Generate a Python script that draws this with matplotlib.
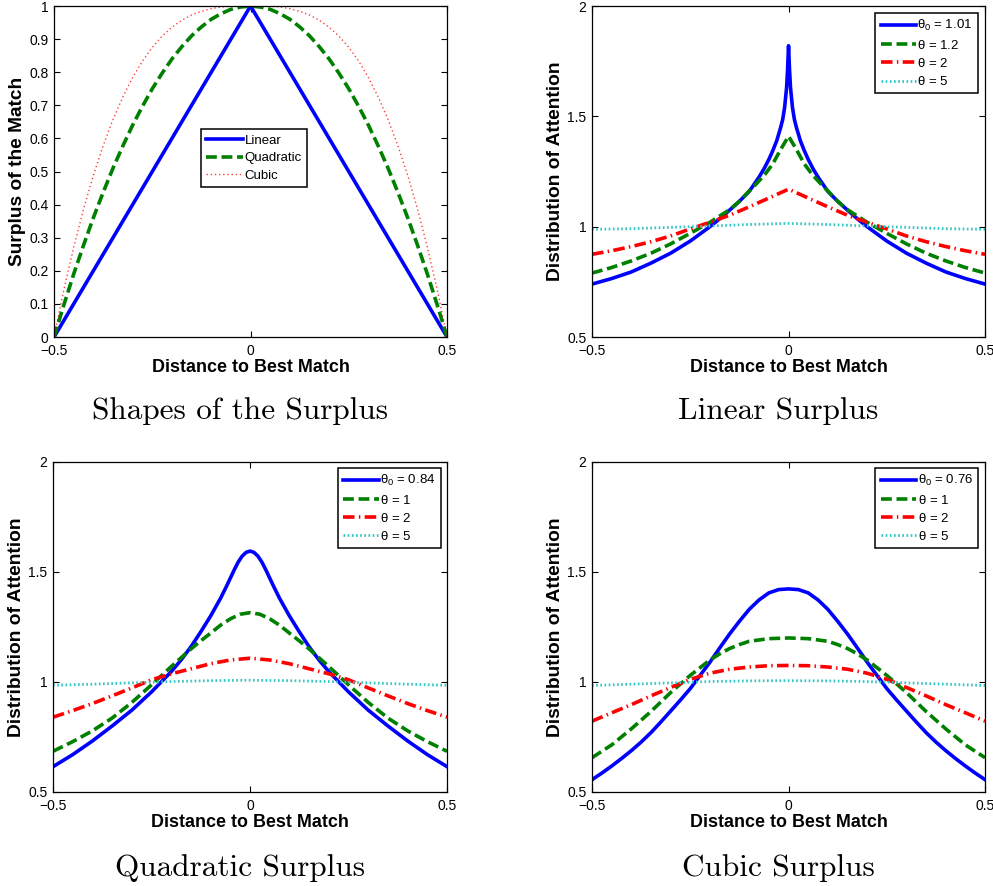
import numpy as np
import matplotlib
matplotlib.use('Agg')
import matplotlib.pyplot as plt
from matplotlib.ticker import FuncFormatter

plt.rcParams['font.family'] = ['Liberation Sans', 'DejaVu Sans']
plt.rcParams['mathtext.fontset'] = 'custom'
plt.rcParams['mathtext.rm'] = 'Liberation Sans'
plt.rcParams['mathtext.it'] = 'Liberation Sans'
plt.rcParams['mathtext.bf'] = 'Liberation Sans:bold'

# Formas del excedente (mitad derecha, x >= 0)
x_shape = [0, 0.025, 0.05, 0.075, 0.1, 0.125, 0.15, 0.175, 0.2, 0.225, 0.25,
           0.275, 0.3, 0.325, 0.35, 0.375, 0.4, 0.425, 0.45, 0.475, 0.5]
lin_shape = [1.0, 0.95, 0.9, 0.85, 0.8, 0.75, 0.7, 0.65, 0.6, 0.55, 0.5,
             0.45, 0.4, 0.35, 0.3, 0.25, 0.2, 0.15, 0.1, 0.05, 0.0]
quad_shape = [1.0, 0.997, 0.99, 0.977, 0.96, 0.937, 0.91, 0.877, 0.84, 0.797, 0.75,
              0.697, 0.64, 0.577, 0.51, 0.437, 0.36, 0.277, 0.19, 0.097, 0.0]
cub_shape = [1.0, 1.0, 0.999, 0.997, 0.992, 0.984, 0.973, 0.957, 0.936, 0.909, 0.875,
             0.834, 0.784, 0.725, 0.657, 0.578, 0.488, 0.386, 0.271, 0.143, 0.0]

# Excedente lineal
x_lin_a = [0, 0.0025, 0.005, 0.01, 0.015, 0.02, 0.03, 0.04, 0.05, 0.0625, 0.075, 0.1, 0.125,
           0.15, 0.175, 0.2, 0.25, 0.3, 0.35, 0.4, 0.45, 0.5]
lin_a = [1.82, 1.71, 1.63, 1.54, 1.485, 1.45, 1.39, 1.345, 1.305, 1.262, 1.225, 1.16, 1.115,
         1.075, 1.036, 1.00, 0.935, 0.88, 0.835, 0.795, 0.765, 0.74]
x_lin_b = [0, 0.02, 0.04, 0.06, 0.08, 0.1, 0.125, 0.15, 0.2, 0.25, 0.3, 0.35, 0.4, 0.45, 0.5]
lin_b = [1.41, 1.35, 1.285, 1.237, 1.198, 1.162, 1.115, 1.077, 1.02, 0.97, 0.922, 0.88, 0.845, 0.815, 0.79]
x_lin_c = [0, 0.05, 0.1, 0.15, 0.2, 0.25, 0.3, 0.35, 0.4, 0.45, 0.5]
lin_c = [1.17, 1.13, 1.09, 1.052, 1.02, 0.99, 0.958, 0.932, 0.91, 0.891, 0.875]
x_flat = [0, 0.1, 0.2, 0.3, 0.4, 0.5]
lin_d = [1.015, 1.01, 1.003, 0.997, 0.991, 0.988]

# Excedente cuadratico
x_quad_a = [0, 0.01, 0.02, 0.03, 0.04, 0.05, 0.06, 0.075, 0.1, 0.125, 0.15, 0.175, 0.2,
            0.25, 0.3, 0.35, 0.4, 0.45, 0.5]
quad_a = [1.595, 1.589, 1.572, 1.545, 1.51, 1.472, 1.434, 1.38, 1.30, 1.228, 1.16, 1.1, 1.047,
          0.955, 0.872, 0.80, 0.732, 0.67, 0.615]
x_quad_b = [0, 0.025, 0.05, 0.075, 0.1, 0.125, 0.15, 0.2, 0.25, 0.3, 0.35, 0.4, 0.45, 0.5]
quad_b = [1.315, 1.308, 1.287, 1.258, 1.222, 1.187, 1.15, 1.07, 0.987, 0.907, 0.836, 0.778, 0.729, 0.685]
x_quad_c = [0, 0.05, 0.1, 0.15, 0.2, 0.25, 0.3, 0.35, 0.4, 0.45, 0.5]
quad_c = [1.108, 1.10, 1.083, 1.06, 1.037, 1.01, 0.973, 0.937, 0.902, 0.87, 0.84]
quad_d = [1.008, 1.006, 1.002, 0.996, 0.99, 0.985]

# Excedente cubico
x_cub_a = [0, 0.025, 0.05, 0.075, 0.1, 0.125, 0.15, 0.175, 0.2, 0.225, 0.25, 0.275, 0.3,
           0.325, 0.35, 0.375, 0.4, 0.425, 0.45, 0.475, 0.5]
cub_a = [1.423, 1.42, 1.405, 1.373, 1.33, 1.276, 1.218, 1.155, 1.09, 1.03, 0.97, 0.918, 0.868,
         0.818, 0.77, 0.727, 0.688, 0.652, 0.618, 0.586, 0.556]
x_cub_b = [0, 0.05, 0.1, 0.125, 0.15, 0.175, 0.2, 0.25, 0.3, 0.35, 0.4, 0.45, 0.5]
cub_b = [1.20, 1.197, 1.185, 1.17, 1.152, 1.128, 1.10, 1.03, 0.952, 0.866, 0.787, 0.714, 0.656]
x_cub_c = [0, 0.05, 0.1, 0.15, 0.2, 0.25, 0.3, 0.35, 0.4, 0.45, 0.5]
cub_c = [1.075, 1.074, 1.068, 1.058, 1.04, 1.012, 0.975, 0.937, 0.897, 0.86, 0.822]
cub_d = [1.006, 1.005, 1.002, 0.996, 0.99, 0.984]


def mirror(xh, yh):
    # las curvas son simetricas respecto a x = 0
    xh = np.asarray(xh)
    yh = np.asarray(yh)
    x = np.concatenate([-xh[:0:-1], xh])
    y = np.concatenate([yh[:0:-1], yh])
    return x, y


def fmt(v, pos):
    s = '%g' % v
    return s.replace('-', '\u2212')


blue = '#0000ff'
green = '#008000'
red = '#ff0000'
cyan = '#33c6c6'
lw = 2.6


def style_axes(ax, yticks, ylabel):
    ax.set_xlim(-0.5, 0.5)
    ax.set_xticks([-0.5, 0, 0.5])
    ax.set_ylim(yticks[0], yticks[-1])
    ax.set_yticks(yticks)
    ax.xaxis.set_major_formatter(FuncFormatter(fmt))
    ax.yaxis.set_major_formatter(FuncFormatter(fmt))
    ax.tick_params(direction='in', top=True, right=True, length=4, width=0.8, labelsize=10)
    ax.tick_params(axis='x', pad=5)
    ax.tick_params(axis='y', pad=4)
    for s in ax.spines.values():
        s.set_linewidth(0.9)
    ax.set_xlabel('Distance to Best Match', fontsize=12.9, fontweight='bold', labelpad=1)
    ax.set_ylabel(ylabel, fontsize=13.8, fontweight='bold', labelpad=2)


def attention_panel(ax, curves, labels, anchor):
    (xa, ya), (xb, yb), (xc, yc), (xd, yd) = curves
    ax.plot(*mirror(xa, ya), color=blue, lw=lw, label=labels[0])
    ax.plot(*mirror(xb, yb), color=green, lw=lw, dashes=(3.0, 1.3), label=labels[1])
    ax.plot(*mirror(xc, yc), color=red, lw=lw, dashes=(3.2, 1.2, 0.4, 1.2), label=labels[2])
    ax.plot(*mirror(xd, yd), color=cyan, lw=2.0, dashes=(0.6, 0.9), label=labels[3])
    style_axes(ax, [0.5, 1, 1.5, 2], 'Distribution of Attention')
    leg = ax.legend(loc='upper right', bbox_to_anchor=anchor, borderaxespad=0,
                    fontsize=9.5, handlelength=2.7, handletextpad=0.1,
                    labelspacing=0.4, borderpad=0.4, fancybox=False, framealpha=1)
    leg.get_frame().set_edgecolor('black')
    leg.get_frame().set_linewidth(1.1)


fig = plt.figure(figsize=(9.93, 8.86), dpi=100)
ax1 = fig.add_axes([0.0544, 0.6196, 0.3958, 0.3736])
ax2 = fig.add_axes([0.5962, 0.6196, 0.3958, 0.3736])
ax3 = fig.add_axes([0.0534, 0.1061, 0.3968, 0.3725])
ax4 = fig.add_axes([0.5962, 0.1061, 0.3958, 0.3725])

# Panel 1: formas del excedente
ax1.plot(*mirror(x_shape, lin_shape), color=blue, lw=lw, label='Linear')
ax1.plot(*mirror(x_shape, quad_shape), color=green, lw=lw, dashes=(3.0, 1.3), label='Quadratic')
ax1.plot(*mirror(x_shape, cub_shape), color=red, lw=1.0, alpha=0.75, dashes=(1.0, 2.0), label='Cubic')
style_axes(ax1, [0, 0.1, 0.2, 0.3, 0.4, 0.5, 0.6, 0.7, 0.8, 0.9, 1], 'Surplus of the Match')
leg1 = ax1.legend(loc='upper left', bbox_to_anchor=(0.374, 0.628), borderaxespad=0,
                  fontsize=9.5, handlelength=2.8, handletextpad=0.1,
                  labelspacing=0.4, borderpad=0.4, fancybox=False, framealpha=1)
leg1.get_frame().set_edgecolor('black')
leg1.get_frame().set_linewidth(1.1)

attention_panel(ax2, [(x_lin_a, lin_a), (x_lin_b, lin_b), (x_lin_c, lin_c), (x_flat, lin_d)],
                [r'$\theta_0$ = 1.01', r'$\theta$ = 1.2', r'$\theta$ = 2', r'$\theta$ = 5'],
                (0.982, 0.979))
attention_panel(ax3, [(x_quad_a, quad_a), (x_quad_b, quad_b), (x_quad_c, quad_c), (x_flat, quad_d)],
                [r'$\theta_0$ = 0.84', r'$\theta$ = 1', r'$\theta$ = 2', r'$\theta$ = 5'],
                (0.985, 0.982))
attention_panel(ax4, [(x_cub_a, cub_a), (x_cub_b, cub_b), (x_cub_c, cub_c), (x_flat, cub_d)],
                [r'$\theta_0$ = 0.76', r'$\theta$ = 1', r'$\theta$ = 2', r'$\theta$ = 5'],
                (0.982, 0.982))

# Titulos debajo de cada panel
caps = ['Shapes of the Surplus', 'Linear Surplus', 'Quadratic Surplus', 'Cubic Surplus']
cap_x = [0.2422, 0.784, 0.2422, 0.784]
cap_y = [0.527, 0.527, 0.0113, 0.0113]
for c, cx, cy in zip(caps, cap_x, cap_y):
    fig.text(cx, cy, c, ha='center', va='baseline', fontsize=22.5, family='cmr10')

fig.savefig('out.png', dpi=100)
